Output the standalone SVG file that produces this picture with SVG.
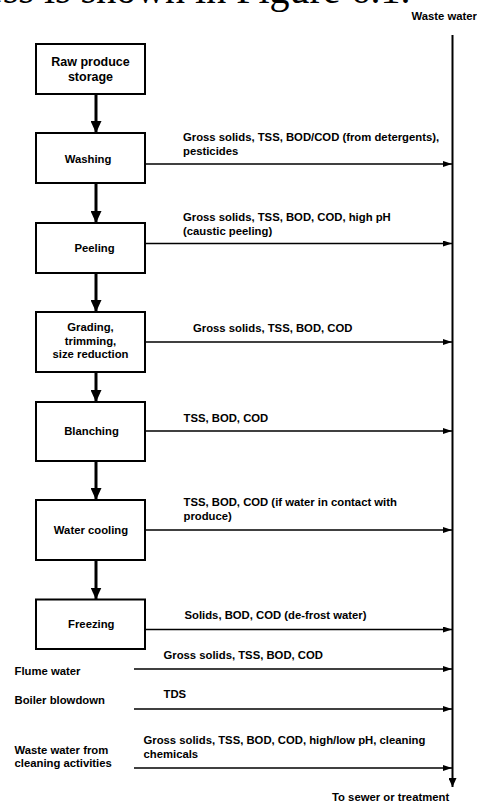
<svg xmlns="http://www.w3.org/2000/svg" width="477" height="803" viewBox="0 0 477 803">
  <defs>
    <style>
      text { font-family: "Liberation Sans", Arial, sans-serif; font-weight: bold; font-size: 11.3px; fill: #000; }
      .box rect { fill: #fff; stroke: #000; stroke-width: 2; }
      .box text { text-anchor: middle; }
      .flow { stroke: #000; stroke-width: 3; fill: none; }
      .waste { stroke: #000; stroke-width: 1.7; fill: none; }
      .main { stroke: #000; stroke-width: 2; fill: none; }
      .page { font-family: "Liberation Serif", "Times New Roman", serif; font-weight: normal; font-size: 40px; }
    </style>
    <marker id="headThick" markerUnits="userSpaceOnUse" markerWidth="12" markerHeight="11" refX="12" refY="5.5" orient="auto">
      <path d="M0,0 L12,5.5 L0,11 z" fill="#000"/>
    </marker>
    <marker id="headThin" markerUnits="userSpaceOnUse" markerWidth="9" markerHeight="6" refX="9" refY="3" orient="auto">
      <path d="M0,0 L9,3 L0,6 z" fill="#000"/>
    </marker>
    <marker id="headMain" markerUnits="userSpaceOnUse" markerWidth="9" markerHeight="8" refX="9" refY="4" orient="auto">
      <path d="M0,0 L9,4 L0,8 z" fill="#000"/>
    </marker>
  </defs>

  <rect width="477" height="803" fill="#fff"/>

  <!-- running text of the page above the figure -->
  <text class="page" x="-15" y="3">ess is shown in Figure 6.1.</text>

  <!-- process steps -->
  <g id="raw-storage" class="box">
    <rect x="36" y="44" width="109" height="50"/>
    <text x="90.5" y="65.5" style="font-size:12.5px">Raw produce</text>
    <text x="90.5" y="81" style="font-size:12.5px">storage</text>
  </g>
  <g id="washing" class="box">
    <rect x="36" y="133" width="109" height="50"/>
    <text x="88" y="162.5">Washing</text>
  </g>
  <g id="peeling" class="box">
    <rect x="36" y="223" width="109" height="50"/>
    <text x="94.5" y="252">Peeling</text>
  </g>
  <g id="grading" class="box">
    <rect x="36" y="312" width="109" height="60"/>
    <text x="90.5" y="331">Grading,</text>
    <text x="90.5" y="344.5">trimming,</text>
    <text x="90.5" y="358">size reduction</text>
  </g>
  <g id="blanching" class="box">
    <rect x="36" y="402" width="109" height="59"/>
    <text x="91.5" y="434.5">Blanching</text>
  </g>
  <g id="water-cooling" class="box">
    <rect x="36" y="500" width="109" height="60"/>
    <text x="91" y="533.5">Water cooling</text>
  </g>
  <g id="freezing" class="box">
    <rect x="36" y="599.5" width="109" height="49.5"/>
    <text x="91.3" y="627.5">Freezing</text>
  </g>

  <!-- other waste water sources -->
  <g id="flume-water">
    <text x="14.5" y="674.5">Flume water</text>
  </g>
  <g id="boiler-blowdown">
    <text x="14.5" y="703.5">Boiler blowdown</text>
  </g>
  <g id="cleaning">
    <text x="14.5" y="753.5">Waste water from</text>
    <text x="14.5" y="767">cleaning activities</text>
  </g>

  <!-- waste water collector -->
  <g id="waste-water">
    <text x="411.5" y="20">Waste water</text>
    <text x="332" y="801">To sewer or treatment</text>
  </g>

  <g id="connectors">
    <!-- product flow -->
    <line class="flow" x1="96" y1="94" x2="96" y2="133" marker-end="url(#headThick)"/>
    <line class="flow" x1="96" y1="183" x2="96" y2="223" marker-end="url(#headThick)"/>
    <line class="flow" x1="96" y1="273" x2="96" y2="312" marker-end="url(#headThick)"/>
    <line class="flow" x1="96" y1="372" x2="96" y2="402" marker-end="url(#headThick)"/>
    <line class="flow" x1="96" y1="461" x2="96" y2="500" marker-end="url(#headThick)"/>
    <line class="flow" x1="96" y1="560" x2="96" y2="599.5" marker-end="url(#headThick)"/>

    <!-- main waste water line -->
    <line class="main" x1="452.5" y1="35" x2="452.5" y2="787" marker-end="url(#headMain)"/>

    <!-- waste streams -->
    <line class="waste" x1="145" y1="164" x2="452" y2="164" marker-end="url(#headThin)"/>
    <line class="waste" x1="145" y1="243.5" x2="452" y2="243.5" marker-end="url(#headThin)"/>
    <line class="waste" x1="145" y1="342" x2="452" y2="342" marker-end="url(#headThin)"/>
    <line class="waste" x1="145" y1="431" x2="452" y2="431" marker-end="url(#headThin)"/>
    <line class="waste" x1="145" y1="530" x2="452" y2="530" marker-end="url(#headThin)"/>
    <line class="waste" x1="145" y1="629.5" x2="452" y2="629.5" marker-end="url(#headThin)"/>
    <line class="waste" x1="134" y1="669" x2="452" y2="669" marker-end="url(#headThin)"/>
    <line class="waste" x1="134" y1="709" x2="452" y2="709" marker-end="url(#headThin)"/>
    <line class="waste" x1="134" y1="768" x2="452" y2="768" marker-end="url(#headThin)"/>

    <!-- stream contents -->
    <text x="183" y="141">Gross solids, TSS, BOD/COD (from detergents),</text>
    <text x="183" y="154.5">pesticides</text>
    <text x="183" y="221">Gross solids, TSS, BOD, COD, high pH</text>
    <text x="183" y="234.5">(caustic peeling)</text>
    <text x="193" y="332">Gross solids, TSS, BOD, COD</text>
    <text x="183.5" y="422">TSS, BOD, COD</text>
    <text x="183.5" y="506">TSS, BOD, COD (if water in contact with</text>
    <text x="183.5" y="519.5">produce)</text>
    <text x="184.5" y="619">Solids, BOD, COD (de-frost water)</text>
    <text x="163.5" y="658.5">Gross solids, TSS, BOD, COD</text>
    <text x="163.5" y="698">TDS</text>
    <text x="143.5" y="743.5">Gross solids, TSS, BOD, COD, high/low pH, cleaning</text>
    <text x="143.5" y="757.5">chemicals</text>
  </g>
</svg>
